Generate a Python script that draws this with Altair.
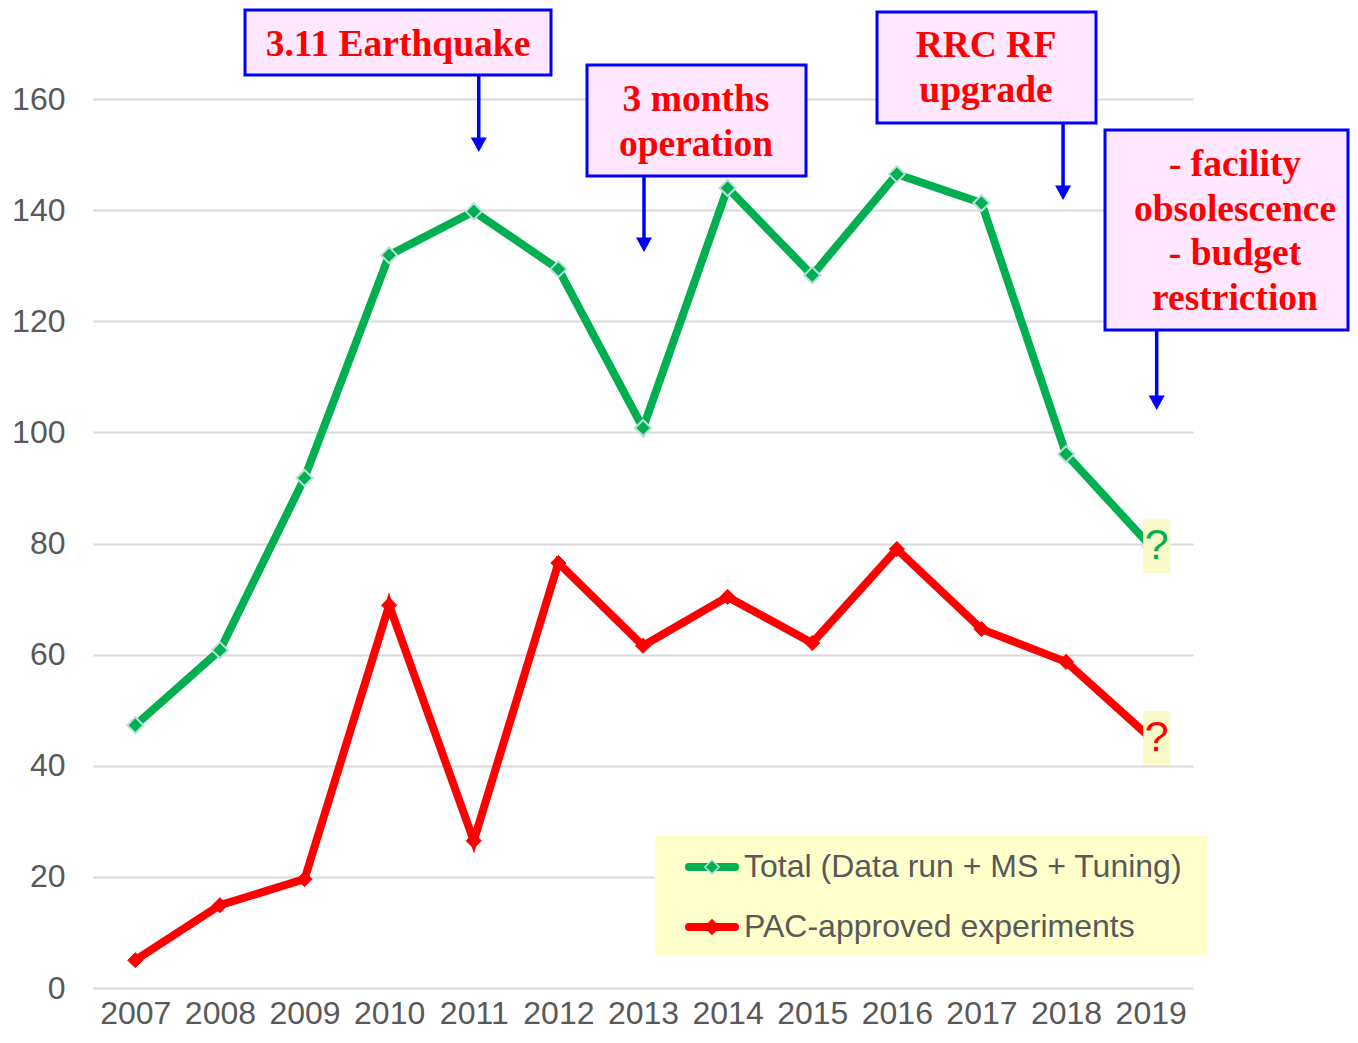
import altair as alt
import pandas as pd

years = [str(y) for y in range(2007, 2020)]
total_hours = [47.3, 60.8, 91.8, 131.9, 139.8, 129.4, 100.8, 144.0, 128.3, 146.5, 141.3, 96.1, 79.5]
pac_hours = [5.0, 14.9, 19.6, 68.9, 26.5, 76.5, 61.6, 70.4, 62.1, 79.0, 64.6, 58.7, 45.0]
series_names = ["Total (Data run + MS + Tuning)", "PAC-approved experiments"]
y_ticks = [0, 20, 40, 60, 80, 100, 120, 140, 160]

GREEN = "#00b050"
RED = "#ff0000"
GRAY = "#595959"
SANS = "Liberation Sans"
SERIF = "Liberation Serif"

rows = []
for y, t, p in zip(years, total_hours, pac_hours):
    rows.append({"year": y, "value": t, "series": series_names[0]})
    rows.append({"year": y, "value": p, "series": series_names[1]})
df = pd.DataFrame(rows)

x_enc = alt.X("year:O", scale=alt.Scale(type="point", padding=0.5),
              axis=alt.Axis(title=None, labelAngle=0, labelPadding=10, domain=False,
                            ticks=False, grid=False, labelFontSize=32, labelColor=GRAY,
                            labelFont=SANS))
y_enc = alt.Y("value:Q", scale=alt.Scale(domain=[0, 176.4], nice=False, zero=True),
              axis=alt.Axis(title=None, values=y_ticks, labelPadding=28, domain=False,
                            ticks=False, grid=True, gridColor="#d9d9d9", gridWidth=2,
                            labelFontSize=32, labelColor=GRAY, labelFont=SANS))
color_enc = alt.Color("series:N", scale=alt.Scale(domain=series_names, range=[GREEN, RED]),
                      legend=None)

base = alt.Chart(df)
lines = base.mark_line(strokeWidth=8).encode(x=x_enc, y=y_enc, color=color_enc)
pts_green = base.transform_filter(alt.datum.series == series_names[0]).mark_point(
    shape="diamond", filled=True, size=260, fill=GREEN, stroke="#b7e1dd", strokeWidth=2,
    opacity=1).encode(x="year:O", y="value:Q")
pts_red = base.transform_filter(alt.datum.series == series_names[1]).mark_point(
    shape="diamond", filled=True, size=230, fill=RED, stroke=RED, strokeWidth=1,
    opacity=1).encode(x="year:O", y="value:Q")

# question-mark boxes at the last (uncertain) year
q_df = pd.DataFrame({"year": [years[-1], years[-1]],
                     "value": [total_hours[-1], pac_hours[-1]],
                     "series": series_names})
q_box = alt.Chart(q_df).mark_rect(width=27, height=54, color="#fafac8", xOffset=6).encode(
    x="year:O", y="value:Q")
q_text = alt.Chart(q_df).mark_text(text="?", fontSize=43, font=SANS, baseline="middle",
                                   align="center", dx=6).encode(
    x="year:O", y="value:Q", color=alt.Color("series:N", scale=alt.Scale(
        domain=series_names, range=[GREEN, RED]), legend=None))

one = alt.Data(values=[{}])

# annotations: (lines, box x0, x1, y0, y1 in plot px, text x, first line y, arrow year,
#               arrow dx, arrow start y, tip y)
annotations = [
    (["3.11 Earthquake"], 152, 458, 2, 67, 305, 37, 2011, 5, 67, 144),
    (["3 months", "operation"], 494, 713, 57, 168, 603, 92, 2013, 1, 168, 244),
    (["RRC RF", "upgrade"], 784, 1003, 4, 115, 893, 38, 2018, -3, 115, 192),
    (["- facility", "obsolescence", "- budget", "restriction"], 1012, 1255, 122, 322, 1142,
     157, 2019, 6, 322, 402),
]

ann_layers = []
for lines_txt, x0, x1, y0, y1, tx, yfirst, ayear, adx, ay0, atip in annotations:
    ann_layers.append(alt.Chart(one).mark_rect(fill="#ffe8ff", stroke="#0000ff",
                                               strokeWidth=3).encode(
        x=alt.value(x0), x2=alt.value(x1), y=alt.value(y0), y2=alt.value(y1)))
    ann_layers.append(alt.Chart(one).mark_text(
        text=lines_txt, font=SERIF, fontWeight="bold", fontSize=37.5, color=RED,
        lineHeight=44.5, align="center", baseline="middle").encode(
        x=alt.value(tx), y=alt.value(yfirst)))
    adf = pd.DataFrame({"year": [str(ayear)]})
    ann_layers.append(alt.Chart(adf).mark_rule(color="#0000ff", strokeWidth=3.5,
                                               xOffset=adx).encode(
        x="year:O", y=alt.value(ay0), y2=alt.value(atip - 12)))
    ann_layers.append(alt.Chart(adf).mark_point(
        shape="M-1,-0.8L1,-0.8L0,1Z", filled=True, size=256, color="#0000ff",
        opacity=1, xOffset=adx).encode(x="year:O", y=alt.value(atip - 8)))

# custom legend
leg_layers = [
    alt.Chart(one).mark_rect(fill="#ffffcc").encode(
        x=alt.value(562), x2=alt.value(1114), y=alt.value(828), y2=alt.value(947)),
]
leg_rows = [(series_names[0], GREEN, "#b7e1dd", 859), (series_names[1], RED, RED, 919)]
for name, col, strk, ly in leg_rows:
    leg_layers.append(alt.Chart(one).mark_rule(color=col, strokeWidth=8, strokeCap="round").encode(
        x=alt.value(596), x2=alt.value(642), y=alt.value(ly)))
    leg_layers.append(alt.Chart(one).mark_point(
        shape="diamond", filled=True, size=200, fill=col, stroke=strk, strokeWidth=1.5,
        opacity=1).encode(x=alt.value(619), y=alt.value(ly)))
    leg_layers.append(alt.Chart(one).mark_text(
        text=name, font=SANS, fontSize=32, color=GRAY, align="left",
        baseline="middle").encode(x=alt.value(651), y=alt.value(ly)))

chart = alt.layer(
    lines, pts_green, pts_red, q_box, q_text, *ann_layers, *leg_layers
).properties(
    width=1100, height=980,
    padding={"left": 85, "top": 0, "right": 157, "bottom": 47},
    autosize=alt.AutoSizeParams(type="none"),
).configure_view(stroke=None)

chart.save("out.html", embed_options={"renderer": "svg", "actions": False})
